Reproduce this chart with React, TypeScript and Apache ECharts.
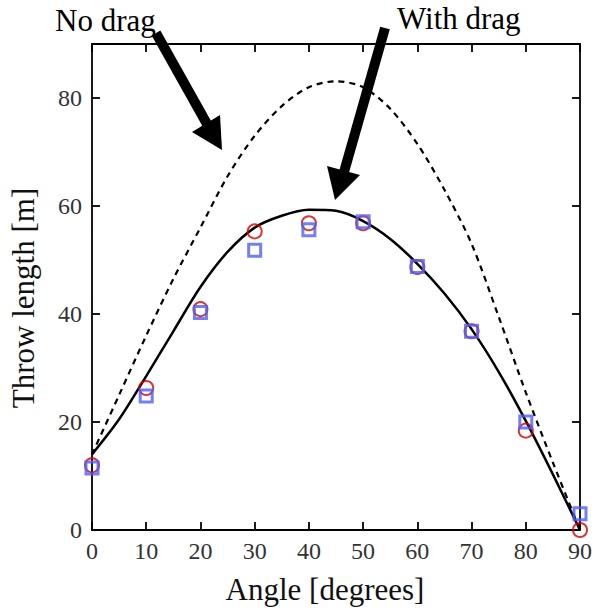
import React, { useEffect, useRef } from "react";
import * as echarts from "echarts";

const angles = [0, 5, 10, 15, 20, 25, 30, 35, 40, 45, 50, 55, 60, 65, 70, 75, 80, 85, 90];
const noDragCurve = [14, 25, 36, 46.5, 56, 65.5, 73, 78.5, 82, 83.1, 82, 78, 71.5, 63, 53, 39.5, 25.5, 12.5, 0];
const withDragCurve = [14, 20.5, 28.5, 36.8, 45, 51.5, 56, 58.2, 59.3, 59.1, 57.2, 53.9, 49.3, 43.8, 37.2, 29.3, 20.2, 10.3, 0];

const measuredAngles = [0, 10, 20, 30, 40, 50, 60, 70, 80, 90];
const circleValues = [12, 26.3, 40.9, 55.3, 56.8, 56.8, 48.7, 36.8, 18.4, 0];
const squareValues = [11.5, 24.8, 40.3, 51.8, 55.6, 57.1, 48.8, 36.8, 20.0, 3.0];

const xTicks = [0, 10, 20, 30, 40, 50, 60, 70, 80, 90];
const yTicks = [0, 20, 40, 60, 80];

const FONT = "'Liberation Serif', 'Times New Roman', serif";

export default function App() {
  const ref = useRef<HTMLDivElement>(null);
  useEffect(() => {
    document.body.style.margin = "0";
    if (!ref.current) return;
    const chart = echarts.init(ref.current, undefined, { renderer: "svg" });
    const axisCommon = {
      type: "value" as const,
      min: 0,
      axisLine: { show: true, onZero: false, lineStyle: { color: "#000", width: 1.8 } },
      axisTick: { show: true, inside: true, length: 8, lineStyle: { color: "#000", width: 1.8 } },
      splitLine: { show: false },
    };
    chart.setOption({
      animation: false,
      backgroundColor: "#fff",
      textStyle: { fontFamily: FONT },
      grid: { left: 91, right: 14, top: 44, bottom: 76, containLabel: false },
      xAxis: [
        {
          ...axisCommon,
          max: 90,
          interval: 10,
          position: "bottom",
          name: "Angle [degrees]",
          nameLocation: "middle",
          nameGap: 44,
          nameTextStyle: { fontFamily: FONT, fontSize: 31, color: "#111", padding: [0, 22, 0, 0] },
          axisLabel: {
            fontFamily: FONT,
            fontSize: 24,
            color: "#333",
            margin: 9,
            formatter: (v: number) => (xTicks.includes(v) ? String(v) : ""),
          },
        },
        {
          ...axisCommon,
          max: 90,
          interval: 10,
          position: "top",
          axisLabel: { show: false },
        },
      ],
      yAxis: [
        {
          ...axisCommon,
          max: 90,
          interval: 20,
          position: "left",
          name: "Throw length [m]",
          nameLocation: "middle",
          nameGap: 53,
          nameRotate: 90,
          nameTextStyle: { fontFamily: FONT, fontSize: 31, color: "#111", padding: [0, 22, 0, 0] },
          axisLabel: {
            fontFamily: FONT,
            fontSize: 24,
            color: "#333",
            margin: 10,
            formatter: (v: number) => (yTicks.includes(v) ? String(v) : ""),
          },
        },
        {
          ...axisCommon,
          max: 90,
          interval: 20,
          position: "right",
          axisLabel: { show: false },
        },
      ],
      series: [
        {
          type: "line",
          data: angles.map((a, i) => [a, noDragCurve[i]]),
          smooth: 0.3,
          showSymbol: false,
          lineStyle: { color: "#000", width: 2.2, type: [6, 5] },
          z: 2,
        },
        {
          type: "line",
          data: angles.map((a, i) => [a, withDragCurve[i]]),
          smooth: 0.3,
          showSymbol: false,
          lineStyle: { color: "#000", width: 2.5 },
          z: 2,
        },
        {
          type: "scatter",
          data: measuredAngles.map((a, i) => [a, circleValues[i]]),
          symbol: "circle",
          symbolSize: 14,
          itemStyle: { color: "rgba(0,0,0,0)", borderColor: "#d40000", borderWidth: 2 },
          z: 3,
        },
        {
          type: "scatter",
          data: measuredAngles.map((a, i) => [a, squareValues[i]]),
          symbol: "rect",
          symbolSize: 12,
          itemStyle: { color: "rgba(0,0,0,0)", borderColor: "#4f5ff2", borderWidth: 3 },
          z: 4,
        },
      ],
      graphic: [
        {
          type: "text",
          left: 55,
          top: 5,
          style: { text: "No drag", fontFamily: FONT, fontSize: 31, fill: "#000" },
        },
        {
          type: "text",
          left: 397,
          top: 3,
          style: { text: "With drag", fontFamily: FONT, fontSize: 31, fill: "#000" },
        },
        {
          type: "line",
          shape: { x1: 156, y1: 33, x2: 207, y2: 124 },
          style: { stroke: "#000", lineWidth: 10 },
          z: 10,
        },
        {
          type: "polygon",
          shape: { points: [[222, 150], [192, 132], [220, 115]] },
          style: { fill: "#000" },
          z: 10,
        },
        {
          type: "line",
          shape: { x1: 385, y1: 28, x2: 344, y2: 172 },
          style: { stroke: "#000", lineWidth: 10 },
          z: 10,
        },
        {
          type: "polygon",
          shape: { points: [[335, 200], [327, 166], [360, 175]] },
          style: { fill: "#000" },
          z: 10,
        },
      ],
    });
    return () => chart.dispose();
  }, []);
  return <div ref={ref} style={{ width: 595, height: 610 }} />;
}
